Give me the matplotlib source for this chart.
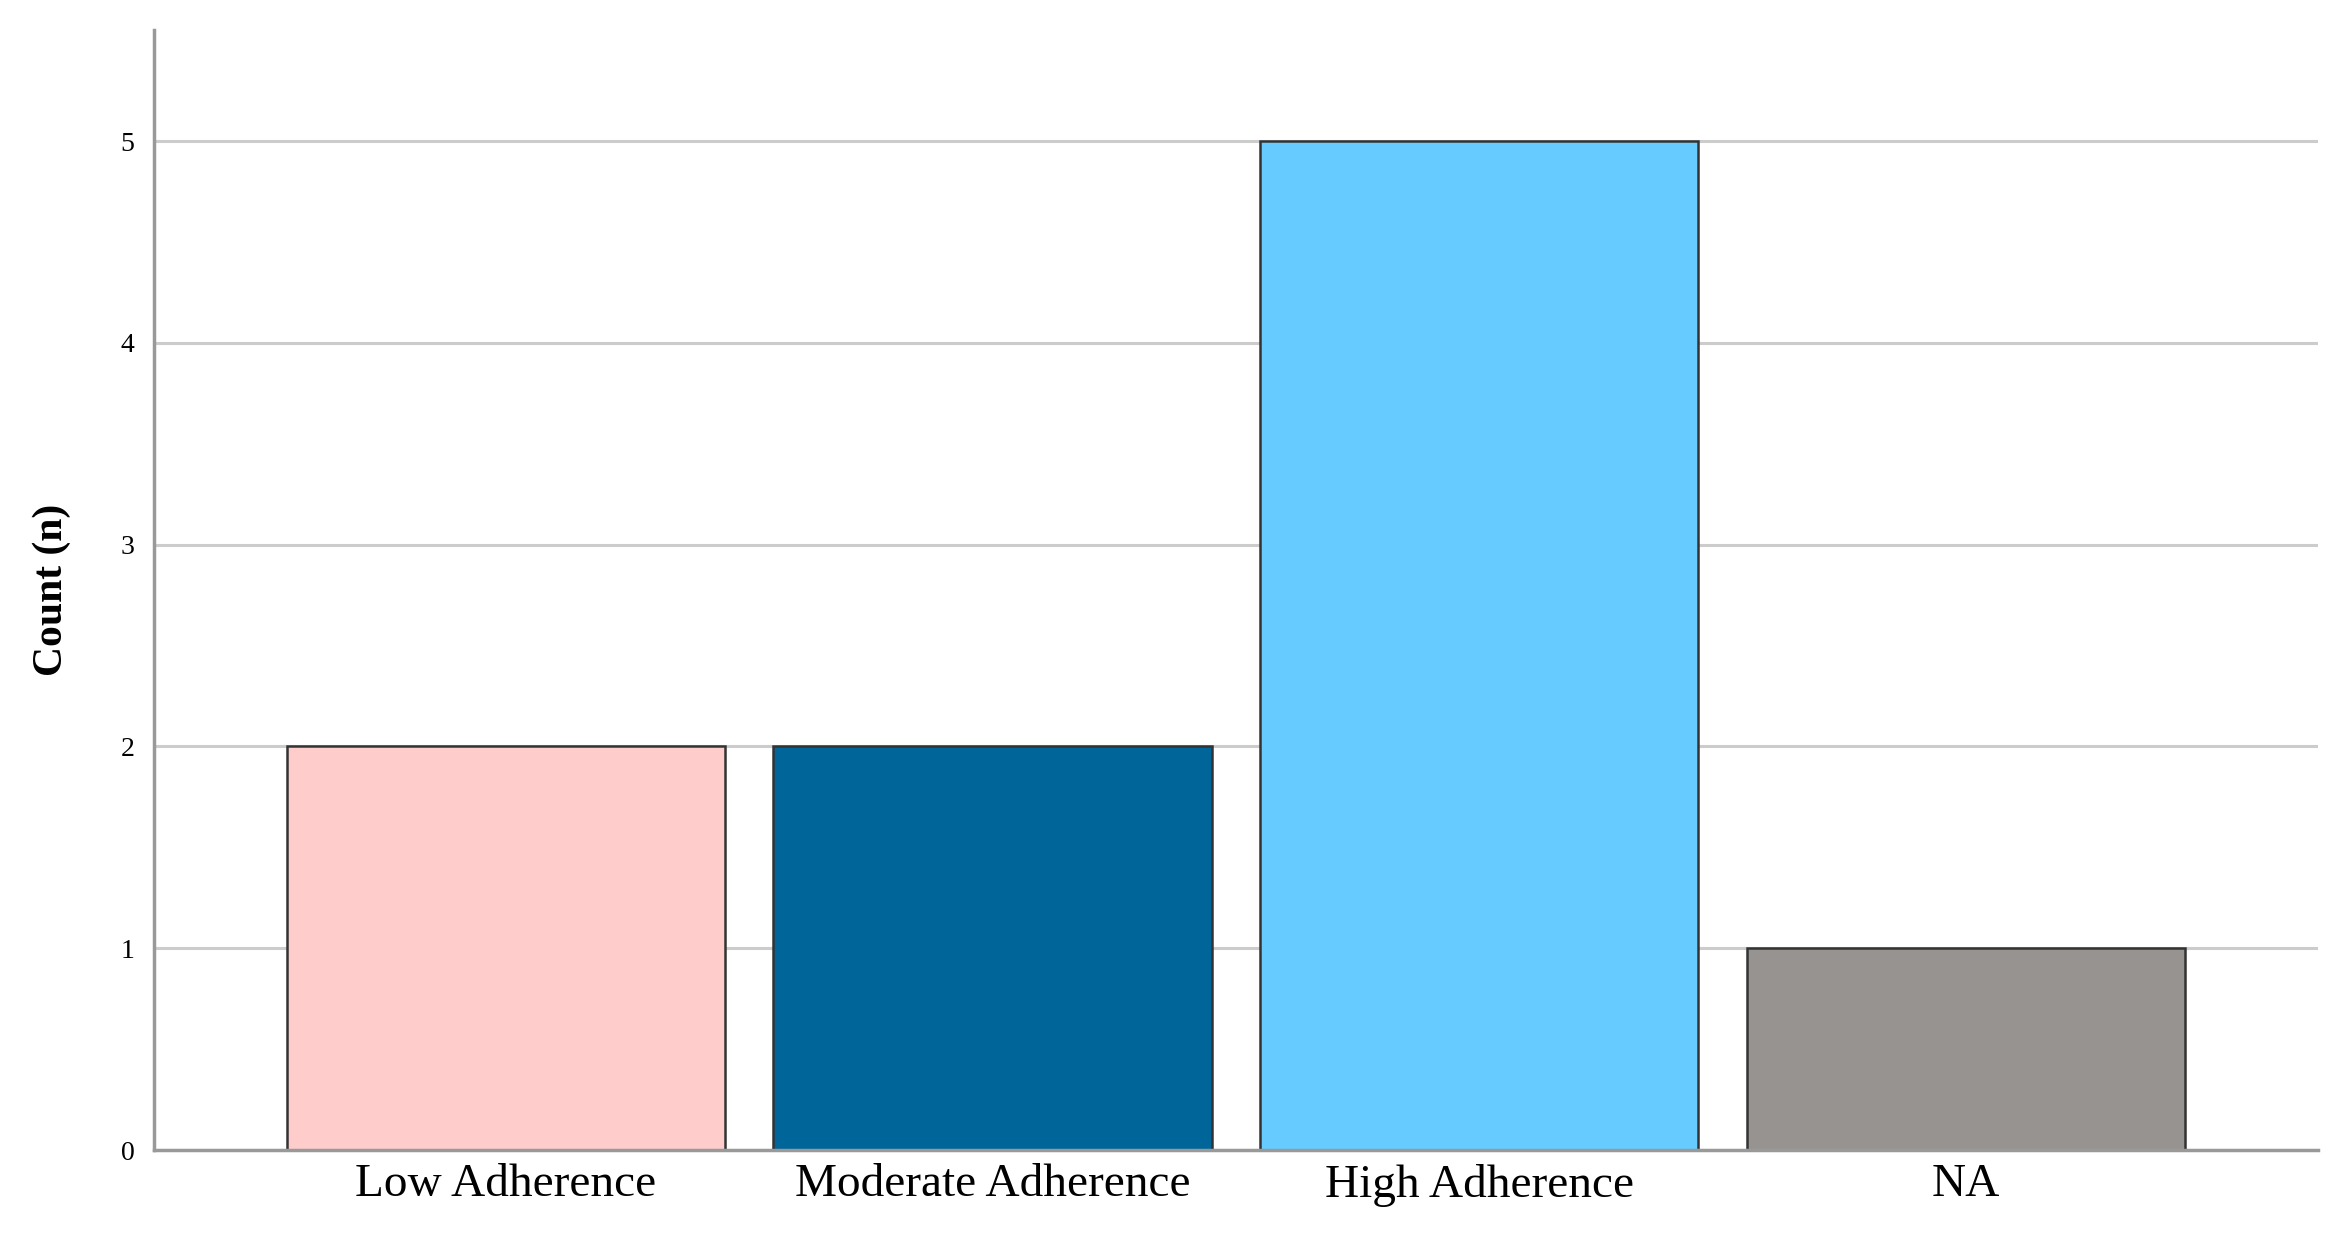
import numpy as np
import matplotlib
matplotlib.use('Agg')
import matplotlib.pyplot as plt

# --Data--
categories = ['Low Adherence', 'Moderate Adherence', 'High Adherence', 'NA']
counts = [2, 2, 5, 1]
bar_colors = ['#FFCCCC', '#006699', '#66CCFF', '#979391']
y_ticks = [0, 1, 2, 3, 4, 5]

plt.rcParams['font.family'] = ['Liberation Serif', 'DejaVu Serif']

fig = plt.figure(figsize=(23.46, 12.37), dpi=100)
ax = fig.add_axes([0.0656, 0.0703, 0.9224, 0.9054])

x = np.arange(len(categories))
ax.bar(x, counts, width=0.9, color=bar_colors, edgecolor='#333333',
       linewidth=1.8, zorder=3)

ax.set_xlim(-0.723, len(categories) - 1 + 0.723)
ax.set_ylim(0, 5.55)
ax.set_yticks(y_ticks)
ax.set_xticks(x)
ax.set_xticklabels(categories, fontsize=34)
ax.tick_params(axis='y', labelsize=20, length=0, pad=14)
ax.tick_params(axis='x', length=0, pad=10)

ax.yaxis.grid(True, color='#cccccc', linewidth=2.2, zorder=0)
ax.set_axisbelow(True)

for side in ['top', 'right']:
    ax.spines[side].set_visible(False)
for side in ['left', 'bottom']:
    ax.spines[side].set_color('#999999')
    ax.spines[side].set_linewidth(2.5)
ax.spines['bottom'].set_zorder(4)

ax.set_ylabel('Count (n)', fontsize=30, fontweight='bold', labelpad=36)

fig.savefig('out.png', dpi=100)
